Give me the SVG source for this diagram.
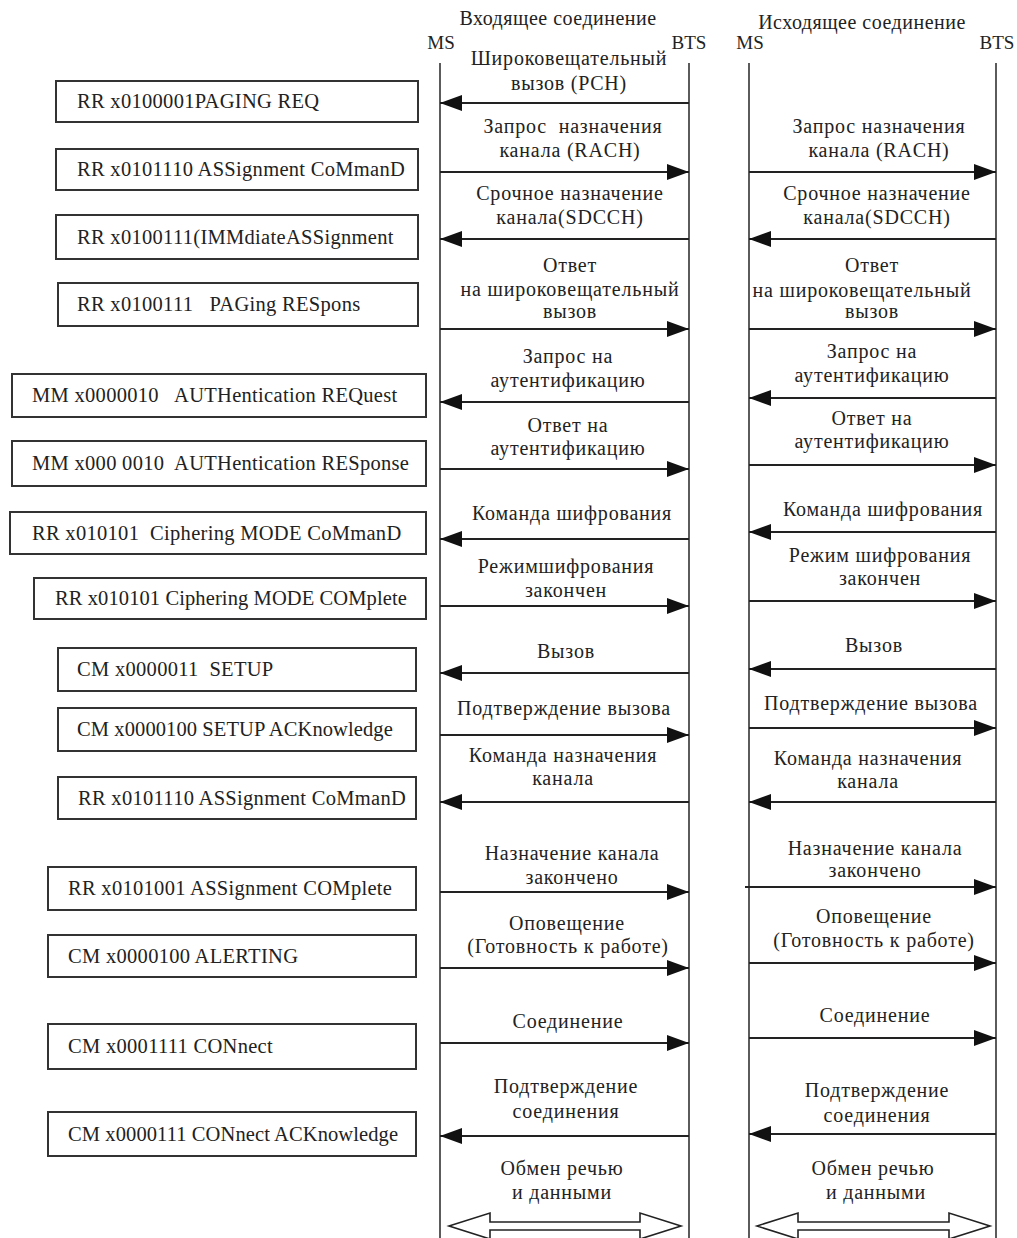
<svg xmlns="http://www.w3.org/2000/svg" width="1017" height="1238" viewBox="0 0 1017 1238" font-family="'Liberation Serif', serif">
  <style>
    text { font-family: "Liberation Serif", serif; fill: #222; }
    .hdr { font-size: 20px; letter-spacing: 0.5px; text-anchor: middle; }
    .ent { font-size: 19px; text-anchor: middle; }
    .lbl { font-size: 20px; letter-spacing: 0.8px; text-anchor: middle; }
    .box rect { fill: #fff; stroke: #333; stroke-width: 2; }
    .box text { font-size: 20.5px; letter-spacing: 0.3px; }
    .box text.tight { letter-spacing: 0.1px; }
    .life { stroke: #333; stroke-width: 1.6; }
    .msg { stroke: #222; stroke-width: 1.8; fill: none; marker-end: url(#head); }
    .dbl { fill: #fff; stroke: #222; stroke-width: 1.6; }
  </style>
  <defs>
    <marker id="head" markerUnits="userSpaceOnUse" viewBox="0 0 22 16" markerWidth="22" markerHeight="16" refX="22" refY="8" orient="auto">
      <path d="M0,0 L22,8 L0,16 Z" fill="#111"/>
    </marker>
  </defs>
  <rect width="1017" height="1238" fill="#fff"/>

  <!-- column headings -->
  <g id="headings">
    <text class="hdr" x="558" y="25">Входящее соединение</text>
    <text class="hdr" x="862" y="29">Исходящее соединение</text>
    <text class="ent" x="441" y="49">MS</text>
    <text class="ent" x="689" y="49">BTS</text>
    <text class="ent" x="750" y="49">MS</text>
    <text class="ent" x="997" y="49">BTS</text>
  </g>

  <!-- lifelines -->
  <g id="lifelines">
    <line class="life" x1="440" y1="63" x2="440" y2="1238"/>
    <line class="life" x1="689" y1="63" x2="689" y2="1238"/>
    <line class="life" x1="749" y1="63" x2="749" y2="1238"/>
    <line class="life" x1="996" y1="63" x2="996" y2="1238"/>
  </g>

  <!-- protocol message boxes -->
  <g id="box-paging-req" class="box"><rect x="56" y="81" width="362" height="41"/><text x="77" y="108">RR x0100001PAGING REQ</text></g>
  <g id="box-assign-cmd-1" class="box"><rect x="56" y="149" width="362" height="41"/><text x="77" y="176">RR x0101110 ASSignment CoMmanD</text></g>
  <g id="box-imm-assign" class="box"><rect x="56" y="215" width="362" height="44"/><text x="77" y="244">RR x0100111(IMMdiateASSignment</text></g>
  <g id="box-paging-resp" class="box"><rect x="58" y="283" width="360" height="43"/><text x="77" y="311" xml:space="preserve">RR x0100111   PAGing RESpons</text></g>
  <g id="box-auth-req" class="box"><rect x="12" y="374" width="414" height="43"/><text x="32" y="402" xml:space="preserve">MM x0000010   AUTHentication REQuest</text></g>
  <g id="box-auth-resp" class="box"><rect x="12" y="441" width="414" height="45"/><text x="32" y="470" xml:space="preserve">MM x000 0010  AUTHentication RESponse</text></g>
  <g id="box-ciph-cmd" class="box"><rect x="10" y="512" width="416" height="42"/><text x="32" y="540" xml:space="preserve">RR x010101  Ciphering MODE CoMmanD</text></g>
  <g id="box-ciph-compl" class="box"><rect x="34" y="578" width="392" height="41"/><text class="tight" x="55" y="605">RR x010101 Ciphering MODE COMplete</text></g>
  <g id="box-setup" class="box"><rect x="58" y="648" width="358" height="43"/><text x="77" y="676" xml:space="preserve">CM x0000011  SETUP</text></g>
  <g id="box-setup-ack" class="box"><rect x="58" y="708" width="358" height="43"/><text class="tight" x="77" y="736">CM x0000100 SETUP ACKnowledge</text></g>
  <g id="box-assign-cmd-2" class="box"><rect x="58" y="777" width="358" height="42"/><text x="78" y="805">RR x0101110 ASSignment CoMmanD</text></g>
  <g id="box-assign-compl" class="box"><rect x="48" y="867" width="368" height="43"/><text x="68" y="895">RR x0101001 ASSignment COMplete</text></g>
  <g id="box-alerting" class="box"><rect x="48" y="935" width="368" height="42"/><text x="68" y="963">CM x0000100 ALERTING</text></g>
  <g id="box-connect" class="box"><rect x="48" y="1024" width="368" height="45"/><text x="68" y="1053">CM x0001111 CONnect</text></g>
  <g id="box-connect-ack" class="box"><rect x="48" y="1112" width="368" height="44"/><text class="tight" x="68" y="1141">CM x0000111 CONnect ACKnowledge</text></g>

  <!-- message labels, incoming call -->
  <g id="labels-incoming">
    <text class="lbl" x="569" y="65">Широковещательный</text>
    <text class="lbl" x="569" y="90">вызов (PCH)</text>
    <text class="lbl" x="573" y="133" xml:space="preserve">Запрос  назначения</text>
    <text class="lbl" x="570" y="157">канала (RACH)</text>
    <text class="lbl" x="570" y="200">Срочное назначение</text>
    <text class="lbl" x="570" y="224">канала(SDCCH)</text>
    <text class="lbl" x="570" y="272">Ответ</text>
    <text class="lbl" x="570" y="296">на широковещательный</text>
    <text class="lbl" x="570" y="318">вызов</text>
    <text class="lbl" x="568" y="363">Запрос на</text>
    <text class="lbl" x="568" y="387">аутентификацию</text>
    <text class="lbl" x="568" y="432">Ответ на</text>
    <text class="lbl" x="568" y="455">аутентификацию</text>
    <text class="lbl" x="572" y="520">Команда шифрования</text>
    <text class="lbl" x="566" y="573">Режимшифрования</text>
    <text class="lbl" x="566" y="597">закончен</text>
    <text class="lbl" x="566" y="658">Вызов</text>
    <text class="lbl" x="564" y="715">Подтверждение вызова</text>
    <text class="lbl" x="563" y="762">Команда назначения</text>
    <text class="lbl" x="563" y="785">канала</text>
    <text class="lbl" x="572" y="860">Назначение канала</text>
    <text class="lbl" x="572" y="884">закончено</text>
    <text class="lbl" x="567" y="930">Оповещение</text>
    <text class="lbl" x="568" y="953">(Готовность к работе)</text>
    <text class="lbl" x="568" y="1028">Соединение</text>
    <text class="lbl" x="566" y="1093">Подтверждение</text>
    <text class="lbl" x="566" y="1118">соединения</text>
    <text class="lbl" x="562" y="1175">Обмен речью</text>
    <text class="lbl" x="562" y="1199">и данными</text>
  </g>

  <!-- message labels, outgoing call -->
  <g id="labels-outgoing">
    <text class="lbl" x="879" y="133">Запрос назначения</text>
    <text class="lbl" x="879" y="157">канала (RACH)</text>
    <text class="lbl" x="877" y="200">Срочное назначение</text>
    <text class="lbl" x="877" y="224">канала(SDCCH)</text>
    <text class="lbl" x="872" y="272">Ответ</text>
    <text class="lbl" x="862" y="297">на широковещательный</text>
    <text class="lbl" x="872" y="318">вызов</text>
    <text class="lbl" x="872" y="358">Запрос на</text>
    <text class="lbl" x="872" y="382">аутентификацию</text>
    <text class="lbl" x="872" y="425">Ответ на</text>
    <text class="lbl" x="872" y="448">аутентификацию</text>
    <text class="lbl" x="883" y="516">Команда шифрования</text>
    <text class="lbl" x="880" y="562">Режим шифрования</text>
    <text class="lbl" x="880" y="585">закончен</text>
    <text class="lbl" x="874" y="652">Вызов</text>
    <text class="lbl" x="871" y="710">Подтверждение вызова</text>
    <text class="lbl" x="868" y="765">Команда назначения</text>
    <text class="lbl" x="868" y="788">канала</text>
    <text class="lbl" x="875" y="855">Назначение канала</text>
    <text class="lbl" x="875" y="877">закончено</text>
    <text class="lbl" x="874" y="923">Оповещение</text>
    <text class="lbl" x="874" y="947">(Готовность к работе)</text>
    <text class="lbl" x="875" y="1022">Соединение</text>
    <text class="lbl" x="877" y="1097">Подтверждение</text>
    <text class="lbl" x="877" y="1122">соединения</text>
    <text class="lbl" x="873" y="1175">Обмен речью</text>
    <text class="lbl" x="876" y="1199">и данными</text>
  </g>

  <!-- message arrows -->
  <g id="connectors">
    <!-- incoming call -->
    <line class="msg" x1="689" y1="103" x2="440" y2="103"/>
    <line class="msg" x1="440" y1="172" x2="689" y2="172"/>
    <line class="msg" x1="689" y1="239" x2="440" y2="239"/>
    <line class="msg" x1="440" y1="329" x2="689" y2="329"/>
    <line class="msg" x1="689" y1="402" x2="440" y2="402"/>
    <line class="msg" x1="440" y1="469" x2="689" y2="469"/>
    <line class="msg" x1="689" y1="539" x2="440" y2="539"/>
    <line class="msg" x1="440" y1="606" x2="689" y2="606"/>
    <line class="msg" x1="689" y1="673" x2="440" y2="673"/>
    <line class="msg" x1="440" y1="735" x2="689" y2="735"/>
    <line class="msg" x1="689" y1="802" x2="440" y2="802"/>
    <line class="msg" x1="440" y1="892" x2="689" y2="892"/>
    <line class="msg" x1="440" y1="968" x2="689" y2="968"/>
    <line class="msg" x1="440" y1="1043" x2="689" y2="1043"/>
    <line class="msg" x1="689" y1="1136" x2="440" y2="1136"/>
    <!-- outgoing call -->
    <line class="msg" x1="749" y1="172" x2="996" y2="172"/>
    <line class="msg" x1="996" y1="239" x2="749" y2="239"/>
    <line class="msg" x1="749" y1="329" x2="996" y2="329"/>
    <line class="msg" x1="996" y1="398" x2="749" y2="398"/>
    <line class="msg" x1="749" y1="465" x2="996" y2="465"/>
    <line class="msg" x1="996" y1="532" x2="749" y2="532"/>
    <line class="msg" x1="749" y1="601" x2="996" y2="601"/>
    <line class="msg" x1="996" y1="669" x2="749" y2="669"/>
    <line class="msg" x1="749" y1="728" x2="996" y2="728"/>
    <line class="msg" x1="996" y1="802" x2="749" y2="802"/>
    <line class="msg" x1="745" y1="887" x2="996" y2="887"/>
    <line class="msg" x1="749" y1="963" x2="996" y2="963"/>
    <line class="msg" x1="749" y1="1038" x2="996" y2="1038"/>
    <line class="msg" x1="996" y1="1134" x2="749" y2="1134"/>
    <!-- two-way speech and data exchange -->
    <path class="dbl" d="M449,1226 L490,1213 L490,1222 L640,1222 L640,1213 L681,1226 L640,1239 L640,1230 L490,1230 L490,1239 Z"/>
    <path class="dbl" d="M757,1226 L798,1213 L798,1222 L949,1222 L949,1213 L990,1226 L949,1239 L949,1230 L798,1230 L798,1239 Z"/>
  </g>
</svg>
